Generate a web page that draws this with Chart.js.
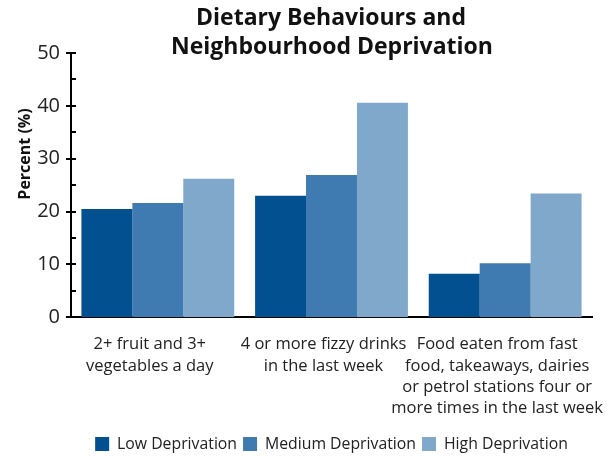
<!DOCTYPE html>
<html>
<head>
<meta charset="utf-8">
<script src="https://cdn.jsdelivr.net/npm/chart.js@4"></script>
<style>
  html, body { margin: 0; padding: 0; background: #fff; }
  #wrap { width: 611px; height: 456px; }
</style>
</head>
<body>
<div id="wrap"><canvas id="myChart"></canvas></div>
<script>
const categories = [
    ['2+ fruit and 3+', 'vegetables a day'],
    ['4 or more fizzy drinks', 'in the last week'],
    ['Food eaten from fast', 'food, takeaways, dairies', 'or petrol stations four or', 'more times in the last week']
];
const lowValues = [20.5, 23.0, 8.2];
const mediumValues = [21.6, 26.9, 10.2];
const highValues = [26.2, 40.6, 23.4];
const seriesNames = ['Low Deprivation', 'Medium Deprivation', 'High Deprivation'];
const titleLines = ['Dietary Behaviours and', 'Neighbourhood Deprivation'];
const yTitle = 'Percent (%)';

const FONT = '"Open Sans", "Noto Sans", sans-serif';

// title, y title and the little axis ticks
const extras = {
    id: 'extras',
    afterDraw(chart) {
        const ctx = chart.ctx;
        const area = chart.chartArea;
        const y = chart.scales.y;
        ctx.save();
        ctx.fillStyle = '#111';
        ctx.textAlign = 'center';
        ctx.textBaseline = 'middle';
        ctx.font = 'bold 23px ' + FONT;
        ctx.fillText(titleLines[0], 331, 18);
        ctx.fillText(titleLines[1], 332, 47);

        ctx.translate(25, 154);
        ctx.rotate(-Math.PI / 2);
        ctx.font = 'bold 16px ' + FONT;
        ctx.fillText(yTitle, 0, 0);
        ctx.restore();

        ctx.save();
        ctx.strokeStyle = '#000';
        ctx.lineWidth = 2;
        for (let v = 0; v <= 50; v += 5) {
            const py = Math.round(y.getPixelForValue(v));
            const major = v % 10 === 0;
            ctx.beginPath();
            ctx.moveTo(area.left - (major ? 5 : 0), py);
            ctx.lineTo(area.left + 5, py);
            ctx.stroke();
        }
        ctx.restore();
    }
};

const data = {
    labels: categories,
    datasets: [
        { label: seriesNames[0], data: lowValues, backgroundColor: '#02508f' },
        { label: seriesNames[1], data: mediumValues, backgroundColor: '#3f7bb0' },
        { label: seriesNames[2], data: highValues, backgroundColor: '#7fa8cb' }
    ]
};

const config = {
    type: 'bar',
    data: data,
    options: {
        responsive: true,
        maintainAspectRatio: false,
        animation: false,
        datasets: { bar: { categoryPercentage: 0.88, barPercentage: 1.0 } },
        layout: { padding: { left: 0, right: 19, top: 53, bottom: -6 } },
        scales: {
            x: {
                grid: { display: false },
                border: { display: true, color: '#000', width: 2 },
                ticks: {
                    color: '#222',
                    font: { family: FONT, size: 16.5, lineHeight: 1.28 },
                    padding: 9,
                    labelOffset: -8,
                    maxRotation: 0,
                    autoSkip: false
                },
                afterFit(scale) {
                    scale.height = 113;
                    scale.paddingLeft = 0;
                    scale.paddingRight = 0;
                }
            },
            y: {
                min: 0,
                max: 50,
                grid: { display: false },
                border: { display: true, color: '#000', width: 2 },
                ticks: {
                    stepSize: 10,
                    color: '#222',
                    padding: 3,
                    font: { family: FONT, size: 20 }
                },
                afterFit(scale) { scale.width = 71; }
            }
        },
        plugins: {
            title: { display: false },
            tooltip: { enabled: false },
            legend: {
                position: 'bottom',
                fullSize: false,
                labels: {
                    boxWidth: 14,
                    boxHeight: 14,
                    padding: 6,
                    color: '#222',
                    font: { family: FONT, size: 15.8 }
                }
            }
        }
    },
    plugins: [extras]
};

const myChart = new Chart(document.getElementById('myChart'), config);
</script>
</body>
</html>
